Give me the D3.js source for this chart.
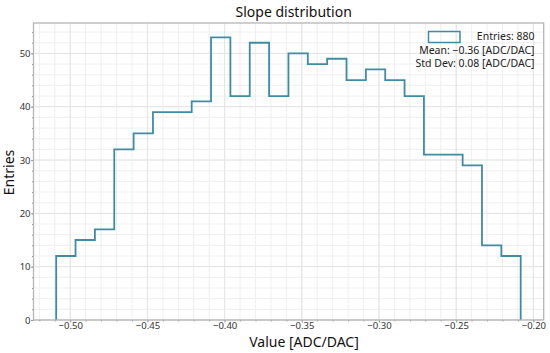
<!DOCTYPE html>
<html><head><meta charset="utf-8">
<script src="https://cdn.jsdelivr.net/npm/d3@7"></script>
<style>body{margin:0;background:#fff}svg{display:block;font-family:"Noto Sans",sans-serif}</style>
</head><body><svg id="c" width="550" height="353"></svg>
<script>
const counts = [12,15,17,32,35,39,39,41,53,42,52,42,50,48,49,45,47,45,42,31,31,29,14,12];
const binRange = [-0.5091,-0.2082];
const xTicks = [-0.50,-0.45,-0.40,-0.35,-0.30,-0.25,-0.20];
const yTicks = [0,10,20,30,40,50];
const legendLines = ["Entries: 880","Mean: \u22120.36 [ADC/DAC]","Std Dev: 0.08 [ADC/DAC]"];

const svg = d3.select("#c");
const L=33.5, R=543.7, T=23, B=320;
const x = d3.scaleLinear().domain([-0.5238,-0.1933]).range([L,R]);
const y = d3.scaleLinear().domain([0,55.7]).range([B,T]);
const color = "#3f8ca2";

// grid
const g = svg.append("g");
const xMinor = d3.range(-52,-19).map(v=>v/100);
const yMinor = d3.range(0,56,2);
g.selectAll(".xm").data(xMinor).join("line").attr("x1",d=>x(d)).attr("x2",d=>x(d)).attr("y1",T).attr("y2",B).attr("stroke","#efefef").attr("stroke-width",1);
g.selectAll(".ym").data(yMinor).join("line").attr("y1",d=>y(d)).attr("y2",d=>y(d)).attr("x1",L).attr("x2",R).attr("stroke","#efefef").attr("stroke-width",1);
g.selectAll(".xg").data(xTicks).join("line").attr("x1",d=>x(d)).attr("x2",d=>x(d)).attr("y1",T).attr("y2",B).attr("stroke","#e4e4e4").attr("stroke-width",1);
g.selectAll(".yg").data(yTicks).join("line").attr("y1",d=>y(d)).attr("y2",d=>y(d)).attr("x1",L).attr("x2",R).attr("stroke","#e4e4e4").attr("stroke-width",1);

// histogram
const n = counts.length;
const edges = d3.range(n+1).map(i=>binRange[0]+i*(binRange[1]-binRange[0])/n);
const pts = [[edges[0],0]];
counts.forEach((c,i)=>pts.push([edges[i],c]));
pts.push([edges[n],counts[n-1]]);
pts.push([edges[n],0]);
svg.append("path").attr("d",d3.line().x(d=>x(d[0])).y(d=>y(d[1])).curve(d3.curveStepAfter)(pts))
  .attr("fill","none").attr("stroke",color).attr("stroke-width",1.8);

// axes
const fmt = d3.format(".2f");
const xa = svg.append("g").attr("transform",`translate(0,${B})`)
  .call(d3.axisBottom(x).tickValues(xTicks).tickFormat(fmt).tickSize(2.5).tickPadding(0));
const xam = svg.append("g").attr("transform",`translate(0,${B})`)
  .call(d3.axisBottom(x).tickValues(xMinor).tickFormat("").tickSize(1.5));
const ya = svg.append("g").attr("transform",`translate(${L},0)`)
  .call(d3.axisLeft(y).tickValues(yTicks).tickSize(2.5).tickPadding(0.5));
const yam = svg.append("g").attr("transform",`translate(${L},0)`)
  .call(d3.axisLeft(y).tickValues(yMinor).tickFormat("").tickSize(1.5));
[xa,xam,ya,yam].forEach(a=>{a.select(".domain").remove();a.selectAll("line").attr("stroke","#999");
  a.selectAll("text").attr("fill","#333").attr("font-size","9.5px").attr("font-family","Noto Sans, sans-serif");});

// frame
svg.append("rect").attr("x",L).attr("y",T).attr("width",R-L).attr("height",B-T)
  .attr("fill","none").attr("stroke","#b5b5b5").attr("stroke-width",1.3);

// titles
svg.append("text").attr("x",293.7).attr("y",16.5).attr("text-anchor","middle").attr("font-size","14px").attr("fill","#111").text("Slope distribution");
svg.append("text").attr("x",304).attr("y",346.5).attr("text-anchor","middle").attr("font-size","14px").attr("fill","#111").text("Value [ADC/DAC]");
svg.append("text").attr("transform",`translate(13.5,172.5) rotate(-90)`).attr("text-anchor","middle").attr("font-size","14px").attr("fill","#111").text("Entries");

// legend
svg.append("rect").attr("x",428.5).attr("y",31.5).attr("width",31.5).attr("height",11)
  .attr("fill","none").attr("stroke",color).attr("stroke-width",1.5);
svg.selectAll(".lg").data(legendLines).join("text").attr("x",534.5).attr("y",(d,i)=>40+i*13.6)
  .attr("text-anchor","end").attr("font-size","10.5px").attr("fill","#222").text(d=>d);
</script></body></html>
